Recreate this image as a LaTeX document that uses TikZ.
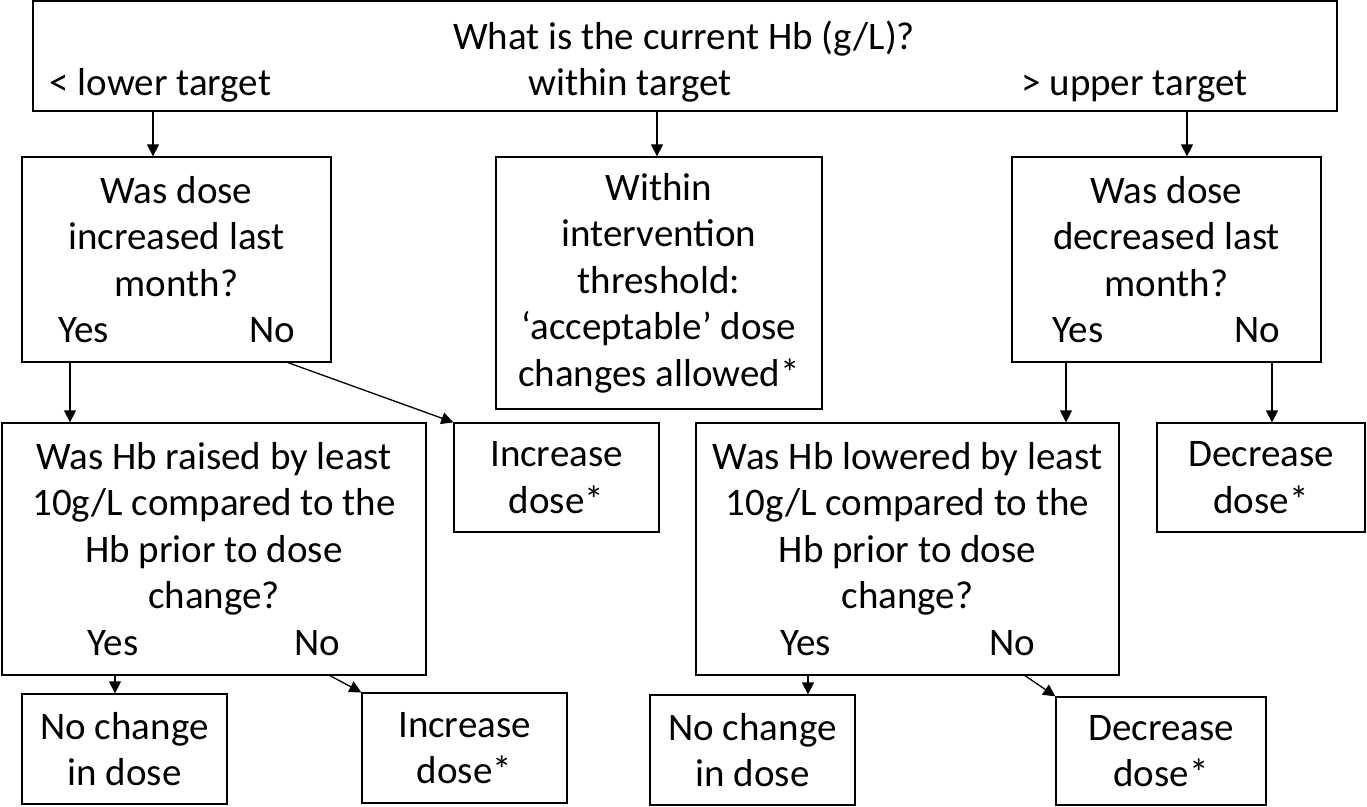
\documentclass[tikz,border=0pt]{standalone}
\usepackage{fontspec}
\setmainfont{Carlito}
\usetikzlibrary{arrows.meta,positioning}
\newcommand{\flowfont}{\fontsize{39pt}{46.5pt}\selectfont}

\begin{document}
\begin{tikzpicture}[
    x=1pt, y=-1pt,
    every node/.style={font=\flowfont},
    box/.style={draw, line width=1.3pt, inner sep=0pt, align=center},
    arr/.style={-{Triangle[length=12pt,width=12pt]}, line width=1.3pt}
  ]
  \useasboundingbox (0,0) rectangle (1367,806);

  % top question
  \node[box, minimum width=1304, minimum height=110] (hb) at (685,56) {};
  \node[anchor=base] (title) at (684,49) {What is the current Hb (g/L)?};
  \node[anchor=base west] (lower) at (46,95) {< lower target};
  \node[anchor=base] (within) at (630,95) {within target};
  \node[anchor=base east] (upper) at (1251,95) {> upper target};

  % second row
  \node[box, minimum width=309, minimum height=205] (lq) at (176.5,259.5)
    {Was dose\\increased last\\month?\\\makebox[237pt]{Yes\hfill No}};
  \node[box, minimum width=326, minimum height=252] (mid) at (659,283)
    {Within\\intervention\\threshold:\\`acceptable' dose\\changes allowed*};
  \node[box, minimum width=309, minimum height=205] (rq) at (1166.5,259.5)
    {Was dose\\decreased last\\month?\\\makebox[228pt]{Yes\hfill No}};

  % third row
  \node[box, minimum width=424, minimum height=252] (lbig) at (214,549)
    {Was Hb raised by least\\10g/L compared to the\\Hb prior to dose\\change?\\\makebox[253pt]{Yes\hfill No}};
  \node[box, minimum width=205, minimum height=109] (incA) at (556.5,477.5) {Increase\\dose*};
  \node[box, minimum width=423, minimum height=252] (rbig) at (907.5,549)
    {Was Hb lowered by least\\10g/L compared to the\\Hb prior to dose\\change?\\\makebox[255pt]{Yes\hfill No}};
  \node[box, minimum width=208, minimum height=109] (decA) at (1261,477.5) {Decrease\\dose*};

  % bottom row
  \node[box, minimum width=205, minimum height=110] (nocL) at (124.5,749) {No change\\in dose};
  \node[box, minimum width=205, minimum height=110] (incB) at (464.5,748) {Increase\\dose*};
  \node[box, minimum width=205, minimum height=110] (nocR) at (752.5,750) {No change\\in dose};
  \node[box, minimum width=210, minimum height=108] (decB) at (1161,751) {Decrease\\dose*};

  % where the arrows leave
  \coordinate (c-low) at (153,0);
  \coordinate (c-within) at (657,0);
  \coordinate (c-upper) at (1187,0);
  \coordinate (c-lqyes) at (70,0);
  \coordinate (c-lqno) at (288,0);
  \coordinate (c-rqyes) at (1066,0);
  \coordinate (c-rqno) at (1272,0);
  \coordinate (c-lbyes) at (115,0);
  \coordinate (c-lbno) at (330,0);
  \coordinate (c-rbyes) at (808,0);
  \coordinate (c-rbno) at (1025,0);

  \draw[arr] (hb.south -| c-low) -- (lq.north -| c-low);
  \draw[arr] (hb.south -| c-within) -- (mid.north -| c-within);
  \draw[arr] (hb.south -| c-upper) -- (rq.north -| c-upper);

  \draw[arr] (lq.south -| c-lqyes) -- (lbig.north -| c-lqyes);
  \draw[arr] (lq.south -| c-lqno) -- (incA.north west);
  \draw[arr] (rq.south -| c-rqyes) -- (rbig.north -| c-rqyes);
  \draw[arr] (rq.south -| c-rqno) -- (decA.north -| c-rqno);

  \draw[arr] (lbig.south -| c-lbyes) -- (nocL.north -| c-lbyes);
  \draw[arr] (lbig.south -| c-lbno) -- (incB.north west);
  \draw[arr] (rbig.south -| c-rbyes) -- (nocR.north -| c-rbyes);
  \draw[arr] (rbig.south -| c-rbno) -- (decB.north west);
\end{tikzpicture}
\end{document}
